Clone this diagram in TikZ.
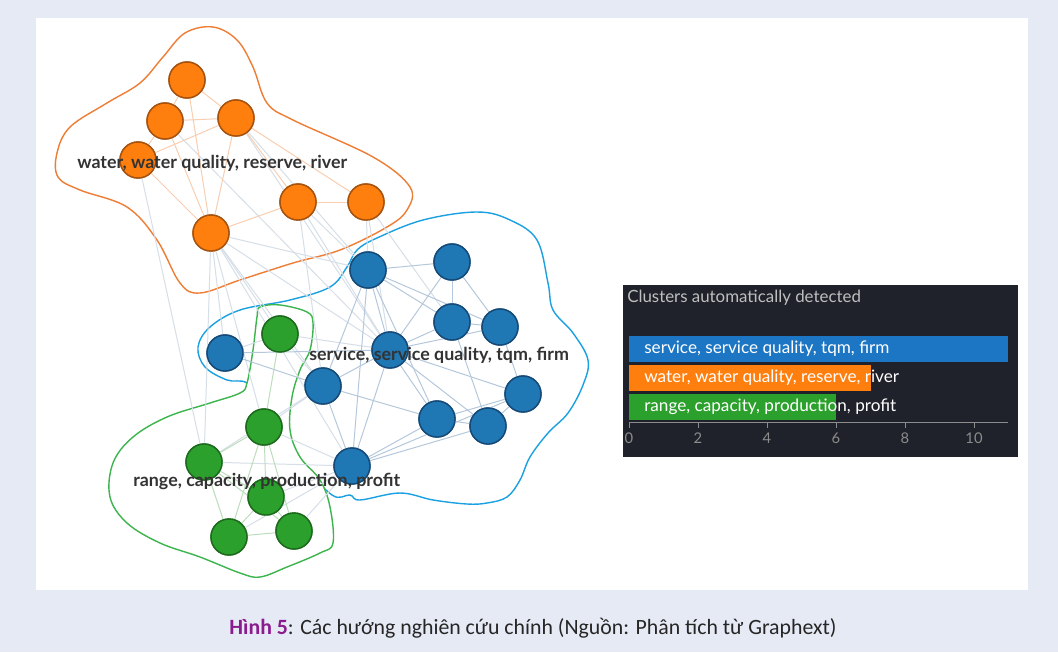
\documentclass[tikz,border=0pt]{standalone}
\usepackage{fontspec}
\setmainfont{Lato}
\newfontfamily\capfont{Carlito}
\definecolor{pagebg}{HTML}{E6EAF5}
\definecolor{orfill}{HTML}{FF7F0E}
\definecolor{ordraw}{HTML}{A5520F}
\definecolor{blfill}{HTML}{1F77B4}
\definecolor{bldraw}{HTML}{154A78}
\definecolor{grfill}{HTML}{2CA02C}
\definecolor{grdraw}{HTML}{1C6A1C}
\definecolor{orhull}{HTML}{EE7D35}
\definecolor{blhull}{HTML}{1BA1E2}
\definecolor{grhull}{HTML}{3DB54E}
\definecolor{chartbg}{HTML}{1F222A}
\definecolor{barblue}{HTML}{1C76C4}
\definecolor{labelgray}{HTML}{333333}
\definecolor{hinh}{HTML}{8A1C8E}
\definecolor{graylink}{HTML}{D6DEE7}
\definecolor{bllink}{HTML}{B4C7DB}
\definecolor{orlink}{HTML}{F8CDB0}
\definecolor{grlink}{HTML}{BCDDBC}

\begin{document}
\begin{tikzpicture}[x=0.025cm,y=-0.025cm,
	vertex/.style={circle, line width=1pt, minimum size=0.9cm, inner sep=0pt},
	orvertex/.style={vertex, draw=ordraw, fill=orfill},
	blvertex/.style={vertex, draw=bldraw, fill=blfill},
	grvertex/.style={vertex, draw=grdraw, fill=grfill},
	hull/.style={line width=1pt, draw=#1, fill=white},
	link/.style={line width=0.7pt, draw=#1},
	clusterlabel/.style={anchor=west, inner sep=0pt, font=\fontsize{12.7}{14}\selectfont\bfseries, text=labelgray},
	bar/.style={anchor=north west, inner sep=0pt, minimum height=0.65cm},
	barlabel/.style={anchor=west, inner sep=0pt, font=\fontsize{12.2}{14}\selectfont, text=white}]
	% page and panel
	\fill[pagebg] (0,0) rectangle (1058,652);
	\useasboundingbox (0,0) rectangle (1058,652);
	\fill[white] (36,18) rectangle (1028,590);

	% cluster outlines
	\draw[hull=blhull] plot[smooth cycle, tension=0.6] coordinates {(290,300) (330,287) (347,267) (357,250) (377,238) (423,220) (477,212) (510,220) (537,240) (548,283) (553,310) (573,333) (588,360) (583,385) (568,413) (548,433) (530,457) (520,480) (507,497) (487,503) (467,504) (433,500) (400,493) (360,500) (350,495) (332,495) (300,460) (265,405) (247,383) (227,380) (205,367) (198,347) (210,327) (240,310)};
	\draw[hull=orhull] plot[smooth cycle, tension=0.6] coordinates {(213,27) (237,40) (253,67) (267,103) (293,120) (373,157) (410,187) (407,210) (387,227) (340,250) (293,263) (240,280) (200,293) (180,283) (157,240) (127,207) (80,190) (58,177) (57,153) (70,127) (107,103) (140,83) (163,57) (185,33)};
	\draw[hull=grhull] plot[smooth cycle, tension=0.6] coordinates {(260,307) (280,305) (307,312) (313,323) (310,350) (300,370) (292,397) (290,430) (300,457) (320,480) (330,507) (333,543) (320,553) (287,567) (260,577) (240,573) (200,557) (160,543) (127,523) (110,497) (113,463) (133,437) (167,417) (210,403) (240,393) (247,383) (253,350) (257,317)};

	% orange terms
	\node [orvertex] (o1) at (187,80) {};
	\node [orvertex] (o2) at (165,121) {};
	\node [orvertex] (o3) at (236,118) {};
	\node [orvertex] (o4) at (138,160) {};
	\node [orvertex] (o5) at (298,202) {};
	\node [orvertex] (o6) at (366,202) {};
	\node [orvertex] (o7) at (211,233) {};
	% blue terms
	\node [blvertex] (b1) at (368,270) {};
	\node [blvertex] (b2) at (452,262) {};
	\node [blvertex] (b3) at (452,322) {};
	\node [blvertex] (b4) at (500,327) {};
	\node [blvertex] (b5) at (225,353) {};
	\node [blvertex] (b6) at (390,350) {};
	\node [blvertex] (b7) at (323,386) {};
	\node [blvertex] (b8) at (523,394) {};
	\node [blvertex] (b9) at (437,419) {};
	\node [blvertex] (b10) at (488,426) {};
	\node [blvertex] (b11) at (352,466) {};
	% green terms
	\node [grvertex] (g1) at (280,334) {};
	\node [grvertex] (g2) at (264,427) {};
	\node [grvertex] (g3) at (204,462) {};
	\node [grvertex] (g4) at (266,497) {};
	\node [grvertex] (g5) at (229,537) {};
	\node [grvertex] (g6) at (294,531) {};

	% links
	\foreach \a/\b in {o4/g3, o7/g3, o7/g1, o7/g2, o7/b5, o7/b7, o7/b1, o7/b6, o7/b11, o5/b1, o5/b6, o5/b7, o6/b1, o6/b6, o6/b3, o3/b1, o3/b6, o2/b6, g1/b5, g1/b6, g1/b7, g2/b7, g3/b7, g4/b11, g6/b11, g3/b11, g2/b11, g5/b11}
		\draw[link=graylink] (\a) -- (\b);
	\foreach \a/\b in {o1/o2, o1/o3, o1/o7, o2/o3, o2/o4, o2/o7, o3/o4, o3/o7, o3/o5, o3/o6, o4/o7, o5/o6, o5/o7}
		\draw[link=orlink] (\a) -- (\b);
	\foreach \a/\b in {b1/b2, b1/b3, b1/b4, b1/b6, b1/b7, b1/b9, b1/b11, b2/b3, b2/b6, b2/b4, b3/b4, b3/b6, b3/b10, b4/b6, b4/b8, b5/b6, b5/b7, b6/b7, b6/b8, b6/b9, b6/b10, b6/b11, b7/b11, b7/b9, b8/b9, b8/b10, b9/b10, b9/b11, b10/b11, b8/b11}
		\draw[link=bllink] (\a) -- (\b);
	\foreach \a/\b in {g1/g2, g2/g3, g2/g4, g2/g5, g2/g6, g3/g4, g3/g5, g4/g5, g4/g6, g5/g6, g3/g6}
		\draw[link=grlink] (\a) -- (\b);

	% terms again, over the links
	\foreach \n/\s in {o1/orvertex, o2/orvertex, o3/orvertex, o4/orvertex, o5/orvertex, o6/orvertex, o7/orvertex, b1/blvertex, b2/blvertex, b3/blvertex, b4/blvertex, b5/blvertex, b6/blvertex, b7/blvertex, b8/blvertex, b9/blvertex, b10/blvertex, b11/blvertex, g1/grvertex, g2/grvertex, g3/grvertex, g4/grvertex, g5/grvertex, g6/grvertex}
		\node [\s] at (\n) {};

	% cluster names
	\node [clusterlabel] (orname) at (77,163) {water, water quality, reserve, river};
	\node [clusterlabel] (blname) at (309,355) {service, service quality, tqm, firm};
	\node [clusterlabel] (grname) at (133,481) {range, capacity, production, profit};

	% cluster chart
	\node [fill=chartbg, anchor=north west, minimum width=9.875cm, minimum height=4.3cm, inner sep=0pt] (chart) at (623,285) {};
	\node [anchor=west, inner sep=0pt, font=\fontsize{12}{14}\selectfont\addfontfeature{Weight=300}, text=black!25] (charttitle) at (627,298) {Clusters automatically detected};
	\node [bar, fill=barblue, minimum width=9.475cm] (blbar) at (629,336) {};
	\node [bar, fill=orfill, minimum width=6.05cm] (orbar) at (629,365) {};
	\node [bar, fill=grfill, minimum width=5.175cm] (grbar) at (629,394) {};
	\node [barlabel] (blbarname) at (644,349) {service, service quality, tqm, firm};
	\node [barlabel] (orbarname) at (644,378) {water, water quality, reserve, river};
	\node [barlabel] (grbarname) at (644,407) {range, capacity, production, profit};
	\coordinate (axl) at (629,422);
	\coordinate (axr) at (1008,422);
	\draw[black!45, line width=0.6pt] (axl) -- (axr);
	\foreach \t in {0,2,...,10}
		\draw[black!45, line width=0.6pt] (629+34.5*\t,422) -- (629+34.5*\t,428)
			node [below=0pt, font=\fontsize{10.5}{12}\selectfont, text=black!45] {\t};

	% caption
	\node [font=\capfont\fontsize{15.5}{18}\selectfont, text=black!85] (caption) at (533,628) {\textcolor{hinh}{\bfseries Hình 5}: Các hướng nghiên cứu chính (Nguồn: Phân tích từ Graphext)};
\end{tikzpicture}
\end{document}
